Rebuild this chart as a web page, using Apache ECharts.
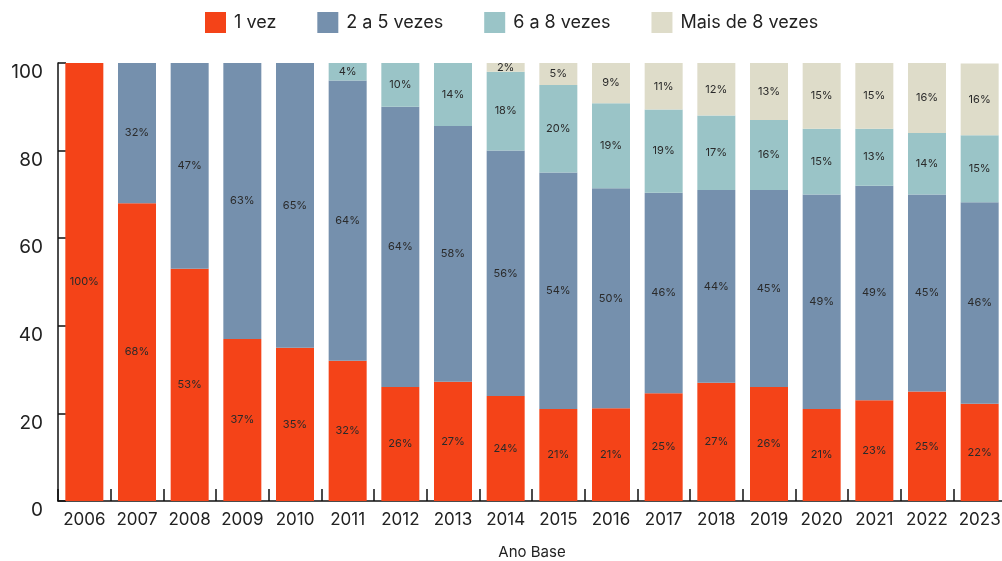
<!DOCTYPE html>
<html>
<head>
<meta charset="utf-8">
<script src="https://cdn.jsdelivr.net/npm/echarts@6/dist/echarts.min.js"></script>
<style>
  html, body { margin: 0; padding: 0; background: #fff; }
  #main { width: 1002px; height: 561px; }
</style>
</head>
<body>
<div id="main"></div>
<script>
// anos base
const years = ['2006', '2007', '2008', '2009', '2010', '2011', '2012', '2013', '2014',
  '2015', '2016', '2017', '2018', '2019', '2020', '2021', '2022', '2023'];

// shares (%); decimals where the rounded labels don't add up
const umaVez = [100, 68, 53, 37, 35, 32, 26, 27.2, 24, 21, 21.2, 24.6, 27, 26, 21, 23, 25, 22.2];
const duasACinco = [0, 32, 47, 63, 65, 64, 64, 58.4, 56, 54, 50.2, 45.8, 44, 45, 49, 49, 45, 46];
const seisAOito = [0, 0, 0, 0, 0, 4, 10, 14.4, 18, 20, 19.4, 19, 17, 16, 15, 13, 14, 15.3];
const maisDeOito = [0, 0, 0, 0, 0, 0, 0, 0, 2, 5, 9.2, 10.6, 12, 13, 15, 15, 16, 16.4];

const yTicks = [0, 20, 40, 60, 80, 100];

const FONT = 'Inter, "Noto Sans", sans-serif';

const seriesDefs = [
  { name: '1 vez', data: umaVez, color: '#F44318' },
  { name: '2 a 5 vezes', data: duasACinco, color: '#7590AD' },
  { name: '6 a 8 vezes', data: seisAOito, color: '#9AC4C7' },
  { name: 'Mais de 8 vezes', data: maisDeOito, color: '#DEDCC9' }
];

const chart = echarts.init(document.getElementById('main'));

const option = {
  animation: false,
  textStyle: { fontFamily: FONT },
  legend: {
    top: 7,
    left: 200,
    itemWidth: 21,
    itemHeight: 21,
    itemGap: 41,
    icon: 'rect',
    textStyle: { fontSize: 18, color: '#222', fontFamily: FONT, padding: [0, 0, 0, 3] }
  },
  grid: { left: 58, right: -4, top: 63, bottom: 60, outerBoundsMode: 'none', containLabel: false },
  xAxis: {
    type: 'category',
    data: years,
    name: 'Ano Base',
    nameLocation: 'middle',
    nameGap: 44,
    nameTextStyle: { fontSize: 15, color: '#222', fontFamily: FONT },
    axisLine: { show: true, lineStyle: { color: '#111', width: 1.5 } },
    axisTick: { show: true, inside: true, length: 12, interval: 0, lineStyle: { color: '#111', width: 1.5 } },
    axisLabel: { fontSize: 17, color: '#222', margin: 10, interval: 0, fontFamily: FONT }
  },
  yAxis: {
    type: 'value',
    min: 0,
    max: 100,
    interval: 20,
    axisLine: { show: true, lineStyle: { color: '#111', width: 1.5 } },
    axisTick: { show: true, inside: true, length: 8, lineStyle: { color: '#111', width: 1.5 } },
    splitLine: { show: false },
    axisLabel: {
      fontSize: 19, color: '#222', margin: 15, fontFamily: FONT,
      verticalAlign: 'top',
      formatter: v => (yTicks.indexOf(v) >= 0 ? String(v) : '')
    }
  },
  series: seriesDefs.map(s => ({
    name: s.name,
    type: 'bar',
    stack: 'total',
    barWidth: 38,
    data: s.data,
    itemStyle: { color: s.color },
    label: {
      show: true,
      position: 'inside',
      fontSize: 11,
      color: '#2a2a2a',
      fontFamily: FONT,
      formatter: p => (p.value > 0 ? Math.round(p.value) + '%' : '')
    }
  }))
};

chart.setOption(option);
</script>
</body>
</html>
